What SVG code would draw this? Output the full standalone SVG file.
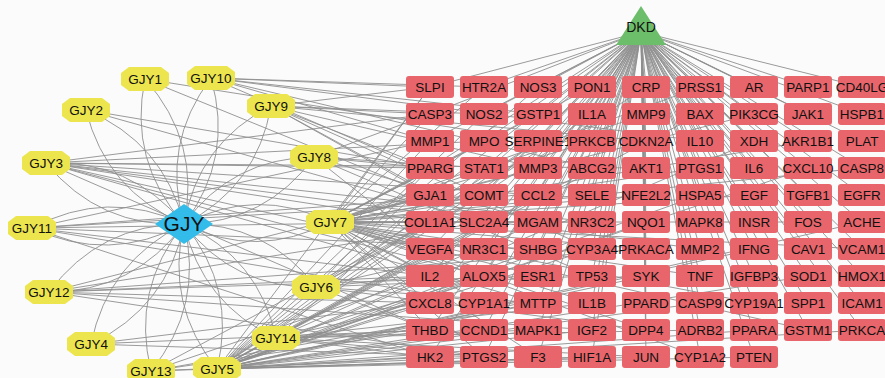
<svg xmlns="http://www.w3.org/2000/svg" xmlns:xlink="http://www.w3.org/1999/xlink" width="885" height="378" viewBox="0 0 885 378">
<style>
.e{fill:none;stroke:#8e8e8e;stroke-width:0.9}
.b{fill:#e8666b}
.o{fill:#ece54e}
.t{font-family:"Liberation Sans",Arial,sans-serif;font-size:13.5px;fill:#111;text-anchor:middle}
</style>
<defs>
<rect id="box" x="-24" y="-11" width="48" height="22" rx="3" ry="3" class="b"/>
<polygon id="oct" points="-24,-6 -16,-12 16,-12 24,-6 24,6 16,12 -16,12 -24,6" class="o"/>
</defs>
<rect width="885" height="378" fill="#fbfbfb"/>
<g id="connectors">
<path class="e" d="M641 32L430 87M641 32L484 87M641 32L538 87M641 32L592 87M641 32L646 87M641 32L700 87M641 32L754 87M641 32L808 87M641 32L862 87M641 32L430 114M641 32L484 114M641 32L538 114M641 32L592 114M641 32L646 114M641 32L700 114M641 32L754 114M641 32L808 114M641 32L862 114M641 32L430 141M641 32L484 141M641 32L538 141M641 32L592 141M641 32L646 141M641 32L700 141M641 32L754 141M641 32L808 141M641 32L862 141M641 32L430 168M641 32L484 168M641 32L538 168M641 32L592 168M641 32L646 168M641 32L700 168M641 32L754 168M641 32L808 168M641 32L862 168M641 32L430 195M641 32L484 195M641 32L538 195M641 32L592 195M641 32L646 195M641 32L700 195M641 32L754 195M641 32L808 195M641 32L862 195M641 32L430 222M641 32L484 222M641 32L538 222M641 32L592 222M641 32L646 222M641 32L700 222M641 32L754 222M641 32L808 222M641 32L862 222M641 32L430 249M641 32L484 249M641 32L538 249M641 32L592 249M641 32L646 249M641 32L700 249M641 32L754 249M641 32L808 249M641 32L862 249M641 32L430 276M641 32L484 276M641 32L538 276M641 32L592 276M641 32L646 276M641 32L700 276M641 32L754 276M641 32L808 276M641 32L862 276M641 32L430 303M641 32L484 303M641 32L538 303M641 32L592 303M641 32L646 303M641 32L700 303M641 32L754 303M641 32L808 303M641 32L862 303M641 32L430 330M641 32L484 330M641 32L538 330M641 32L592 330M641 32L646 330M641 32L700 330M641 32L754 330M641 32L808 330M641 32L862 330M641 32L430 357M641 32L484 357M641 32L538 357M641 32L592 357M641 32L646 357M641 32L700 357M641 32L754 357"/>
<path class="e" d="M184 224Q128 161 145 79M184 224Q201 142 145 79M184 224Q161 144 211 78M184 224Q234 158 211 78M184 224Q106 191 86 110M184 224Q163 142 86 110M184 224Q198 143 271 106M184 224Q257 187 271 106M184 224Q100 228 46 163M184 224Q130 159 46 163M184 224Q232 158 314 157M184 224Q266 223 314 157M184 224Q109 264 32 228M184 224Q107 188 32 228M184 224Q257 186 330 222M184 224Q257 260 330 222M184 224Q266 222 316 287M184 224Q234 289 316 287M184 224Q134 292 49 292M184 224Q100 224 49 292M184 224Q168 307 91 344M184 224Q108 261 91 344M184 224Q259 258 276 338M184 224Q202 304 276 338M184 224Q204 306 151 371M184 224Q131 289 151 371M184 224Q237 288 217 369M184 224Q165 305 217 369"/>
<path class="e" d="M330 222L430 87M330 222L484 87M330 222L592 87M330 222L700 87M330 222L430 114M330 222L538 114M330 222L646 114M330 222L754 114M330 222L484 141M330 222L592 141M330 222L808 141M330 222L430 168M330 222L538 168M330 222L700 168M330 222L862 168M330 222L430 195M330 222L484 195M330 222L646 195M330 222L754 195M330 222L430 222M330 222L538 222M330 222L592 222M330 222L808 222M330 222L484 249M330 222L646 249M330 222L430 249M330 222L862 249M330 222L430 276M330 222L538 276M330 222L700 276M330 222L484 303M330 222L592 303M330 222L754 303M330 222L430 330M330 222L646 330M330 222L808 330M330 222L484 357M330 222L538 357M330 222L700 357M330 222L430 303"/>
<path class="e" d="M217 369L430 87M217 369L538 87M217 369L646 87M217 369L484 114M217 369L592 114M217 369L700 114M217 369L430 141M217 369L538 141M217 369L754 141M217 369L484 168M217 369L592 168M217 369L808 168M217 369L430 195M217 369L538 195M217 369L700 195M217 369L484 222M217 369L646 222M217 369L862 222M217 369L430 249M217 369L538 249M217 369L592 249M217 369L754 249M217 369L430 276M217 369L484 276M217 369L646 276M217 369L808 276M217 369L430 303M217 369L538 303M217 369L700 303M217 369L484 330M217 369L592 330M217 369L754 330M217 369L862 330M217 369L430 357M217 369L592 357M217 369L646 357M217 369L754 357M217 369L538 330"/>
<path class="e" d="M46 163L430 114M46 163L484 141M46 163L430 168M46 163L538 195M46 163L592 222M46 163L430 249M46 163L484 276M46 163L646 168M46 163L430 222M46 163L538 303M46 163L700 249M46 163L430 330"/>
<path class="e" d="M32 228L430 141M32 228L484 195M32 228L430 222M32 228L538 249M32 228L430 276M32 228L592 195M32 228L484 303M32 228L430 357"/>
<path class="e" d="M49 292L430 195M49 292L484 222M49 292L430 276M49 292L538 276M49 292L430 303M49 292L592 330M49 292L484 357M49 292L646 249"/>
<path class="e" d="M211 78L430 87M211 78L484 87M211 78L538 114M211 78L430 141M211 78L592 168M211 78L484 195M211 78L700 141"/>
<path class="e" d="M271 106L430 87M271 106L430 114M271 106L484 114M271 106L430 168M271 106L538 168M271 106L484 222M271 106L592 249M271 106L430 195M271 106L646 141"/>
<path class="e" d="M314 157L430 114M314 157L430 168M314 157L484 168M314 157L538 222M314 157L430 249M314 157L592 276"/>
<path class="e" d="M316 287L430 168M316 287L430 222M316 287L484 249M316 287L430 276M316 287L538 303M316 287L430 330M316 287L592 276M316 287L484 195M316 287L646 330M316 287L538 141"/>
<path class="e" d="M276 338L430 249M276 338L484 276M276 338L430 303M276 338L538 330M276 338L430 357M276 338L484 357M276 338L592 303M276 338L430 195M276 338L538 222M276 338L646 357M276 338L700 330M276 338L430 330"/>
<path class="e" d="M151 371L430 330M151 371L484 357M151 371L430 276M151 371L538 303M151 371L430 222M151 371L592 357"/>
<path class="e" d="M91 344L430 303M91 344L484 357M91 344L430 330"/>
<path class="e" d="M86 110L430 168M86 110L484 222"/>
<path class="e" d="M145 79L430 195M145 79L538 141"/>
</g>
<g id="DKD"><polygon points="641,6 666,45 616,45" fill="#6dbe6a"/><text class="t" x="641" y="32" style="font-size:14px">DKD</text></g>
<g id="GJY"><polygon points="184,204 213,224 184,244 155,224" fill="#33bbea"/><text class="t" x="184" y="231" style="font-size:21px">GJY</text></g>
<g id="GJY1" transform="translate(145,79)"><use xlink:href="#oct"/><text class="t" y="5">GJY1</text></g>
<g id="GJY10" transform="translate(211,78)"><use xlink:href="#oct"/><text class="t" y="5">GJY10</text></g>
<g id="GJY2" transform="translate(86,110)"><use xlink:href="#oct"/><text class="t" y="5">GJY2</text></g>
<g id="GJY9" transform="translate(271,106)"><use xlink:href="#oct"/><text class="t" y="5">GJY9</text></g>
<g id="GJY3" transform="translate(46,163)"><use xlink:href="#oct"/><text class="t" y="5">GJY3</text></g>
<g id="GJY8" transform="translate(314,157)"><use xlink:href="#oct"/><text class="t" y="5">GJY8</text></g>
<g id="GJY11" transform="translate(32,228)"><use xlink:href="#oct"/><text class="t" y="5">GJY11</text></g>
<g id="GJY7" transform="translate(330,222)"><use xlink:href="#oct"/><text class="t" y="5">GJY7</text></g>
<g id="GJY6" transform="translate(316,287)"><use xlink:href="#oct"/><text class="t" y="5">GJY6</text></g>
<g id="GJY12" transform="translate(49,292)"><use xlink:href="#oct"/><text class="t" y="5">GJY12</text></g>
<g id="GJY4" transform="translate(91,344)"><use xlink:href="#oct"/><text class="t" y="5">GJY4</text></g>
<g id="GJY14" transform="translate(276,338)"><use xlink:href="#oct"/><text class="t" y="5">GJY14</text></g>
<g id="GJY13" transform="translate(151,371)"><use xlink:href="#oct"/><text class="t" y="5">GJY13</text></g>
<g id="GJY5" transform="translate(217,369)"><use xlink:href="#oct"/><text class="t" y="5">GJY5</text></g>
<g id="SLPI" transform="translate(430,87)"><use xlink:href="#box"/><text class="t" y="5">SLPI</text></g>
<g id="HTR2A" transform="translate(484,87)"><use xlink:href="#box"/><text class="t" y="5">HTR2A</text></g>
<g id="NOS3" transform="translate(538,87)"><use xlink:href="#box"/><text class="t" y="5">NOS3</text></g>
<g id="PON1" transform="translate(592,87)"><use xlink:href="#box"/><text class="t" y="5">PON1</text></g>
<g id="CRP" transform="translate(646,87)"><use xlink:href="#box"/><text class="t" y="5">CRP</text></g>
<g id="PRSS1" transform="translate(700,87)"><use xlink:href="#box"/><text class="t" y="5">PRSS1</text></g>
<g id="AR" transform="translate(754,87)"><use xlink:href="#box"/><text class="t" y="5">AR</text></g>
<g id="PARP1" transform="translate(808,87)"><use xlink:href="#box"/><text class="t" y="5">PARP1</text></g>
<g id="CD40LG" transform="translate(862,87)"><use xlink:href="#box"/><text class="t" y="5">CD40LG</text></g>
<g id="CASP3" transform="translate(430,114)"><use xlink:href="#box"/><text class="t" y="5">CASP3</text></g>
<g id="NOS2" transform="translate(484,114)"><use xlink:href="#box"/><text class="t" y="5">NOS2</text></g>
<g id="GSTP1" transform="translate(538,114)"><use xlink:href="#box"/><text class="t" y="5">GSTP1</text></g>
<g id="IL1A" transform="translate(592,114)"><use xlink:href="#box"/><text class="t" y="5">IL1A</text></g>
<g id="MMP9" transform="translate(646,114)"><use xlink:href="#box"/><text class="t" y="5">MMP9</text></g>
<g id="BAX" transform="translate(700,114)"><use xlink:href="#box"/><text class="t" y="5">BAX</text></g>
<g id="PIK3CG" transform="translate(754,114)"><use xlink:href="#box"/><text class="t" y="5">PIK3CG</text></g>
<g id="JAK1" transform="translate(808,114)"><use xlink:href="#box"/><text class="t" y="5">JAK1</text></g>
<g id="HSPB1" transform="translate(862,114)"><use xlink:href="#box"/><text class="t" y="5">HSPB1</text></g>
<g id="MMP1" transform="translate(430,141)"><use xlink:href="#box"/><text class="t" y="5">MMP1</text></g>
<g id="MPO" transform="translate(484,141)"><use xlink:href="#box"/><text class="t" y="5">MPO</text></g>
<g id="SERPINE1" transform="translate(538,141)"><use xlink:href="#box"/><text class="t" y="5">SERPINE1</text></g>
<g id="PRKCB" transform="translate(592,141)"><use xlink:href="#box"/><text class="t" y="5">PRKCB</text></g>
<g id="CDKN2A" transform="translate(646,141)"><use xlink:href="#box"/><text class="t" y="5">CDKN2A</text></g>
<g id="IL10" transform="translate(700,141)"><use xlink:href="#box"/><text class="t" y="5">IL10</text></g>
<g id="XDH" transform="translate(754,141)"><use xlink:href="#box"/><text class="t" y="5">XDH</text></g>
<g id="AKR1B1" transform="translate(808,141)"><use xlink:href="#box"/><text class="t" y="5">AKR1B1</text></g>
<g id="PLAT" transform="translate(862,141)"><use xlink:href="#box"/><text class="t" y="5">PLAT</text></g>
<g id="PPARG" transform="translate(430,168)"><use xlink:href="#box"/><text class="t" y="5">PPARG</text></g>
<g id="STAT1" transform="translate(484,168)"><use xlink:href="#box"/><text class="t" y="5">STAT1</text></g>
<g id="MMP3" transform="translate(538,168)"><use xlink:href="#box"/><text class="t" y="5">MMP3</text></g>
<g id="ABCG2" transform="translate(592,168)"><use xlink:href="#box"/><text class="t" y="5">ABCG2</text></g>
<g id="AKT1" transform="translate(646,168)"><use xlink:href="#box"/><text class="t" y="5">AKT1</text></g>
<g id="PTGS1" transform="translate(700,168)"><use xlink:href="#box"/><text class="t" y="5">PTGS1</text></g>
<g id="IL6" transform="translate(754,168)"><use xlink:href="#box"/><text class="t" y="5">IL6</text></g>
<g id="CXCL10" transform="translate(808,168)"><use xlink:href="#box"/><text class="t" y="5">CXCL10</text></g>
<g id="CASP8" transform="translate(862,168)"><use xlink:href="#box"/><text class="t" y="5">CASP8</text></g>
<g id="GJA1" transform="translate(430,195)"><use xlink:href="#box"/><text class="t" y="5">GJA1</text></g>
<g id="COMT" transform="translate(484,195)"><use xlink:href="#box"/><text class="t" y="5">COMT</text></g>
<g id="CCL2" transform="translate(538,195)"><use xlink:href="#box"/><text class="t" y="5">CCL2</text></g>
<g id="SELE" transform="translate(592,195)"><use xlink:href="#box"/><text class="t" y="5">SELE</text></g>
<g id="NFE2L2" transform="translate(646,195)"><use xlink:href="#box"/><text class="t" y="5">NFE2L2</text></g>
<g id="HSPA5" transform="translate(700,195)"><use xlink:href="#box"/><text class="t" y="5">HSPA5</text></g>
<g id="EGF" transform="translate(754,195)"><use xlink:href="#box"/><text class="t" y="5">EGF</text></g>
<g id="TGFB1" transform="translate(808,195)"><use xlink:href="#box"/><text class="t" y="5">TGFB1</text></g>
<g id="EGFR" transform="translate(862,195)"><use xlink:href="#box"/><text class="t" y="5">EGFR</text></g>
<g id="COL1A1" transform="translate(430,222)"><use xlink:href="#box"/><text class="t" y="5">COL1A1</text></g>
<g id="SLC2A4" transform="translate(484,222)"><use xlink:href="#box"/><text class="t" y="5">SLC2A4</text></g>
<g id="MGAM" transform="translate(538,222)"><use xlink:href="#box"/><text class="t" y="5">MGAM</text></g>
<g id="NR3C2" transform="translate(592,222)"><use xlink:href="#box"/><text class="t" y="5">NR3C2</text></g>
<g id="NQO1" transform="translate(646,222)"><use xlink:href="#box"/><text class="t" y="5">NQO1</text></g>
<g id="MAPK8" transform="translate(700,222)"><use xlink:href="#box"/><text class="t" y="5">MAPK8</text></g>
<g id="INSR" transform="translate(754,222)"><use xlink:href="#box"/><text class="t" y="5">INSR</text></g>
<g id="FOS" transform="translate(808,222)"><use xlink:href="#box"/><text class="t" y="5">FOS</text></g>
<g id="ACHE" transform="translate(862,222)"><use xlink:href="#box"/><text class="t" y="5">ACHE</text></g>
<g id="VEGFA" transform="translate(430,249)"><use xlink:href="#box"/><text class="t" y="5">VEGFA</text></g>
<g id="NR3C1" transform="translate(484,249)"><use xlink:href="#box"/><text class="t" y="5">NR3C1</text></g>
<g id="SHBG" transform="translate(538,249)"><use xlink:href="#box"/><text class="t" y="5">SHBG</text></g>
<g id="CYP3A4" transform="translate(592,249)"><use xlink:href="#box"/><text class="t" y="5">CYP3A4</text></g>
<g id="PRKACA" transform="translate(646,249)"><use xlink:href="#box"/><text class="t" y="5">PRKACA</text></g>
<g id="MMP2" transform="translate(700,249)"><use xlink:href="#box"/><text class="t" y="5">MMP2</text></g>
<g id="IFNG" transform="translate(754,249)"><use xlink:href="#box"/><text class="t" y="5">IFNG</text></g>
<g id="CAV1" transform="translate(808,249)"><use xlink:href="#box"/><text class="t" y="5">CAV1</text></g>
<g id="VCAM1" transform="translate(862,249)"><use xlink:href="#box"/><text class="t" y="5">VCAM1</text></g>
<g id="IL2" transform="translate(430,276)"><use xlink:href="#box"/><text class="t" y="5">IL2</text></g>
<g id="ALOX5" transform="translate(484,276)"><use xlink:href="#box"/><text class="t" y="5">ALOX5</text></g>
<g id="ESR1" transform="translate(538,276)"><use xlink:href="#box"/><text class="t" y="5">ESR1</text></g>
<g id="TP53" transform="translate(592,276)"><use xlink:href="#box"/><text class="t" y="5">TP53</text></g>
<g id="SYK" transform="translate(646,276)"><use xlink:href="#box"/><text class="t" y="5">SYK</text></g>
<g id="TNF" transform="translate(700,276)"><use xlink:href="#box"/><text class="t" y="5">TNF</text></g>
<g id="IGFBP3" transform="translate(754,276)"><use xlink:href="#box"/><text class="t" y="5">IGFBP3</text></g>
<g id="SOD1" transform="translate(808,276)"><use xlink:href="#box"/><text class="t" y="5">SOD1</text></g>
<g id="HMOX1" transform="translate(862,276)"><use xlink:href="#box"/><text class="t" y="5">HMOX1</text></g>
<g id="CXCL8" transform="translate(430,303)"><use xlink:href="#box"/><text class="t" y="5">CXCL8</text></g>
<g id="CYP1A1" transform="translate(484,303)"><use xlink:href="#box"/><text class="t" y="5">CYP1A1</text></g>
<g id="MTTP" transform="translate(538,303)"><use xlink:href="#box"/><text class="t" y="5">MTTP</text></g>
<g id="IL1B" transform="translate(592,303)"><use xlink:href="#box"/><text class="t" y="5">IL1B</text></g>
<g id="PPARD" transform="translate(646,303)"><use xlink:href="#box"/><text class="t" y="5">PPARD</text></g>
<g id="CASP9" transform="translate(700,303)"><use xlink:href="#box"/><text class="t" y="5">CASP9</text></g>
<g id="CYP19A1" transform="translate(754,303)"><use xlink:href="#box"/><text class="t" y="5">CYP19A1</text></g>
<g id="SPP1" transform="translate(808,303)"><use xlink:href="#box"/><text class="t" y="5">SPP1</text></g>
<g id="ICAM1" transform="translate(862,303)"><use xlink:href="#box"/><text class="t" y="5">ICAM1</text></g>
<g id="THBD" transform="translate(430,330)"><use xlink:href="#box"/><text class="t" y="5">THBD</text></g>
<g id="CCND1" transform="translate(484,330)"><use xlink:href="#box"/><text class="t" y="5">CCND1</text></g>
<g id="MAPK1" transform="translate(538,330)"><use xlink:href="#box"/><text class="t" y="5">MAPK1</text></g>
<g id="IGF2" transform="translate(592,330)"><use xlink:href="#box"/><text class="t" y="5">IGF2</text></g>
<g id="DPP4" transform="translate(646,330)"><use xlink:href="#box"/><text class="t" y="5">DPP4</text></g>
<g id="ADRB2" transform="translate(700,330)"><use xlink:href="#box"/><text class="t" y="5">ADRB2</text></g>
<g id="PPARA" transform="translate(754,330)"><use xlink:href="#box"/><text class="t" y="5">PPARA</text></g>
<g id="GSTM1" transform="translate(808,330)"><use xlink:href="#box"/><text class="t" y="5">GSTM1</text></g>
<g id="PRKCA" transform="translate(862,330)"><use xlink:href="#box"/><text class="t" y="5">PRKCA</text></g>
<g id="HK2" transform="translate(430,357)"><use xlink:href="#box"/><text class="t" y="5">HK2</text></g>
<g id="PTGS2" transform="translate(484,357)"><use xlink:href="#box"/><text class="t" y="5">PTGS2</text></g>
<g id="F3" transform="translate(538,357)"><use xlink:href="#box"/><text class="t" y="5">F3</text></g>
<g id="HIF1A" transform="translate(592,357)"><use xlink:href="#box"/><text class="t" y="5">HIF1A</text></g>
<g id="JUN" transform="translate(646,357)"><use xlink:href="#box"/><text class="t" y="5">JUN</text></g>
<g id="CYP1A2" transform="translate(700,357)"><use xlink:href="#box"/><text class="t" y="5">CYP1A2</text></g>
<g id="PTEN" transform="translate(754,357)"><use xlink:href="#box"/><text class="t" y="5">PTEN</text></g>
</svg>
